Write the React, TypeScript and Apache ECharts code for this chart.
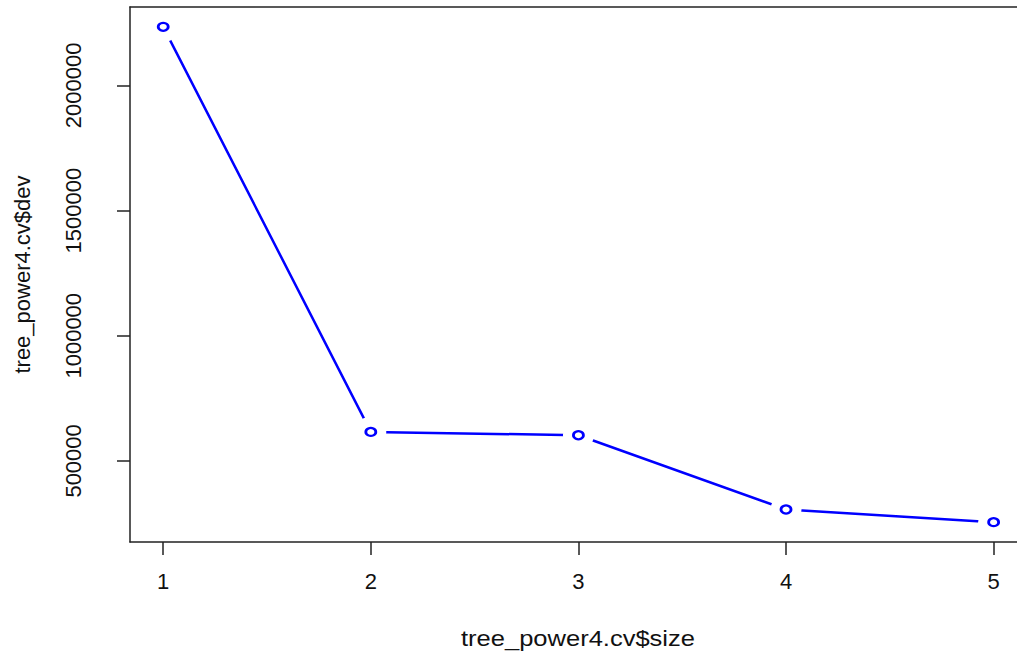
import React, { useEffect, useRef } from "react";
import * as echarts from "echarts";

const sizes = [1, 2, 3, 4, 5];
const devs = [2234000, 615800, 602600, 305900, 255200];
const xTicks = [1, 2, 3, 4, 5];
const yTicks = [500000, 1000000, 1500000, 2000000];
const xTitle = "tree_power4.cv$size";
const yTitle = "tree_power4.cv$dev";

const FONT = "'Liberation Sans', Arial, sans-serif";

export default function App() {
  const ref = useRef<HTMLDivElement>(null);
  useEffect(() => {
    if (!ref.current) return;
    const chart = echarts.init(ref.current, null, { renderer: "svg" });
    const pts = sizes.map((s, i) => [s, devs[i]]);
    // R pads the x range by 4%; the right part of the box falls outside the picture
    const xMin = 0.84;
    const xMax = 5.1126;
    const dMin = Math.min(...devs);
    const dMax = Math.max(...devs);
    const pad = (dMax - dMin) * 0.04;
    const frame = { show: true, lineStyle: { color: "#222", width: 1.5 } };
    chart.setOption({
      animation: false,
      backgroundColor: "#ffffff",
      grid: {
        left: 130,
        top: 7,
        right: 0,
        height: 535,
        show: false,
      },
      xAxis: [
        {
          type: "value",
          min: xMin,
          max: xMax,
          axisLine: frame,
          splitLine: { show: false },
          axisTick: {
            show: true,
            inside: false,
            length: 13,
            customValues: xTicks,
            lineStyle: { color: "#222", width: 1.5 },
          },
          axisLabel: {
            show: true,
            customValues: xTicks,
            margin: 28,
            fontSize: 22,
            fontFamily: FONT,
            color: "#111",
            formatter: (v: number) => String(v),
          },
        },
        {
          type: "value",
          position: "top",
          min: xMin,
          max: xMax,
          axisLine: frame,
          splitLine: { show: false },
          axisTick: { show: false },
          axisLabel: { show: false },
        },
      ],
      yAxis: {
        type: "value",
        min: dMin - pad,
        max: dMax + pad,
        axisLine: frame,
        splitLine: { show: false },
        axisTick: {
          show: true,
          inside: false,
          length: 13,
          customValues: yTicks,
          lineStyle: { color: "#222", width: 1.5 },
        },
        axisLabel: {
          show: true,
          customValues: yTicks,
          rotate: 90,
          margin: 46,
          fontSize: 22,
          fontFamily: FONT,
          color: "#111",
          formatter: (v: number) => String(v),
        },
        name: yTitle,
        nameLocation: "middle",
        nameRotate: 90,
        nameGap: 97,
        nameTextStyle: { fontSize: 22, fontFamily: FONT, color: "#111" },
      },
      graphic: [
        {
          type: "text",
          x: 578,
          y: 638,
          scaleX: 1.16,
          style: {
            text: xTitle,
            font: `22px ${FONT}`,
            fill: "#111",
            align: "center",
            verticalAlign: "middle",
          },
        },
      ],
      series: [
        {
          type: "line",
          data: pts,
          showSymbol: false,
          lineStyle: { color: "#0000ff", width: 2.5 },
          z: 2,
        },
        {
          type: "scatter",
          data: pts,
          symbol: "circle",
          symbolSize: 31,
          itemStyle: { color: "#ffffff", borderWidth: 0, opacity: 1 },
          z: 3,
          silent: true,
        },
        {
          type: "scatter",
          data: pts,
          symbol: "circle",
          symbolSize: [10, 8],
          itemStyle: { color: "#ffffff", borderColor: "#0000ff", borderWidth: 2.5, opacity: 1 },
          z: 4,
          silent: true,
        },
      ],
    });
    return () => chart.dispose();
  }, []);
  return (
    <div
      ref={ref}
      style={{ position: "fixed", left: 0, top: 0, width: 1017, height: 655 }}
    />
  );
}
